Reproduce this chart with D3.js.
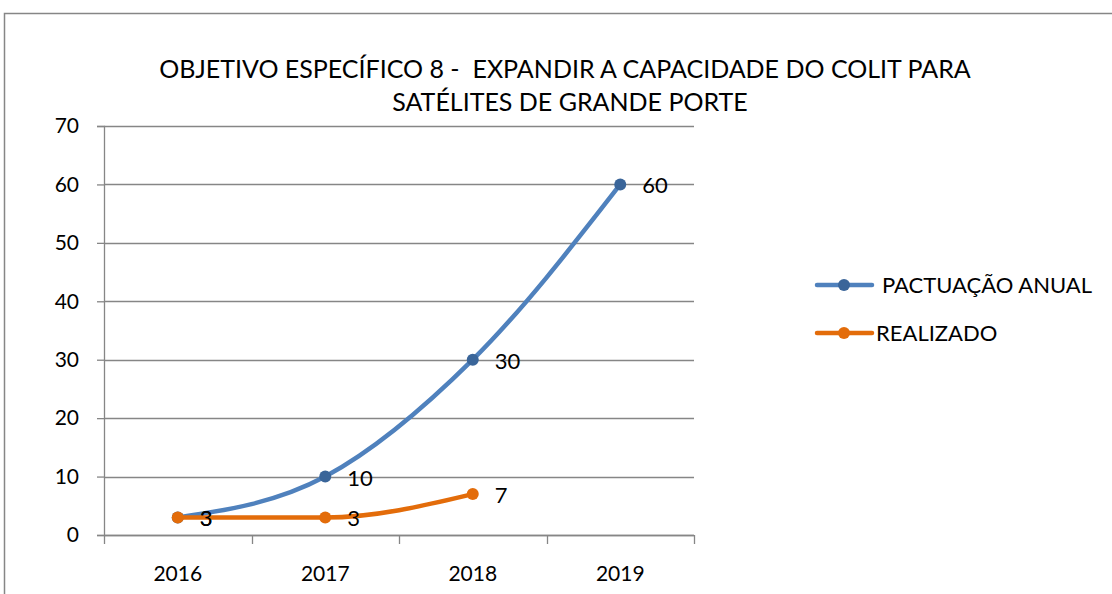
<!DOCTYPE html>
<html>
<head>
<meta charset="utf-8">
<script src="https://cdn.jsdelivr.net/npm/d3@7"></script>
<style>
  body { margin: 0; background: #fff; }
  svg { display: block; font-family: Lato, "Open Sans", sans-serif; }
</style>
</head>
<body>
<div id="chart"></div>
<script>
var years = ['2016', '2017', '2018', '2019'];
var pactuacao = [3, 10, 30, 60];
var realizado = [3, 3, 7];
var yTicks = [0, 10, 20, 30, 40, 50, 60, 70];
var titleLines = ['OBJETIVO ESPECÍFICO 8 -  EXPANDIR A CAPACIDADE DO COLIT PARA', 'SATÉLITES DE GRANDE PORTE'];

var series = [
  { name: 'PACTUAÇÃO ANUAL', values: pactuacao, line: '#4f81bd', marker: '#3a6599' },
  { name: 'REALIZADO', values: realizado, line: '#e36c0a', marker: '#e36c0a' }
];

var W = 1112, H = 594;
var margin = { top: 126, left: 104, right: 418, bottom: 59 };
var width = W - margin.left - margin.right;
var height = H - margin.top - margin.bottom;

var svg = d3.select('#chart').append('svg')
    .attr('width', W)
    .attr('height', H);

// outer frame
svg.append('rect')
    .attr('x', 4.5)
    .attr('y', 13.5)
    .attr('width', W + 10)
    .attr('height', H + 10)
    .attr('fill', 'none')
    .attr('stroke', '#868686')
    .attr('stroke-width', 1.5);

svg.append('g').selectAll('text')
    .data(titleLines)
  .enter().append('text')
    .attr('x', function (d, i) { return i === 0 ? 565 : 570; })
    .attr('y', function (d, i) { return 78 + i * 33; })
    .attr('text-anchor', 'middle')
    .attr('xml:space', 'preserve')
    .style('white-space', 'pre')
    .style('font-size', '25px')
    .style('fill', '#000')
    .text(function (d) { return d; });

var x = d3.scaleBand()
    .domain(years)
    .range([0, width]);

var y = d3.scaleLinear()
    .domain([0, 70])
    .range([height, 0]);

var chartArea = svg.append('g')
    .attr('transform', 'translate(' + margin.left + ',' + margin.top + ')');

// horizontal gridlines
chartArea.append('g').selectAll('line')
    .data(yTicks)
  .enter().append('line')
    .attr('x1', 0)
    .attr('x2', width)
    .attr('y1', function (d) { return Math.round(y(d)) + 0.5; })
    .attr('y2', function (d) { return Math.round(y(d)) + 0.5; })
    .style('stroke', '#868686')
    .style('stroke-width', 1.3);

// y axis
var yAxis = chartArea.append('g')
    .call(d3.axisLeft(y).tickValues(yTicks).tickSize(7).tickPadding(18));
yAxis.select('.domain').style('stroke', '#868686').style('stroke-width', 1.3);
yAxis.selectAll('line').style('stroke', '#868686').style('stroke-width', 1.3);
yAxis.selectAll('text')
    .style('font-family', 'Lato, "Open Sans", sans-serif')
    .style('font-size', '21px')
    .style('fill', '#000');

// x axis, ticks at category boundaries
var xAxis = chartArea.append('g')
    .attr('transform', 'translate(0,' + height + ')');
xAxis.append('line')
    .attr('x1', 0).attr('x2', width)
    .attr('y1', 0.5).attr('y2', 0.5)
    .style('stroke', '#868686').style('stroke-width', 1.3);
xAxis.selectAll('line.tick')
    .data(years.concat(['end']))
  .enter().append('line')
    .attr('class', 'tick')
    .attr('x1', function (d, i) { return Math.round(i * x.step()) + 0.5; })
    .attr('x2', function (d, i) { return Math.round(i * x.step()) + 0.5; })
    .attr('y1', 0)
    .attr('y2', 9)
    .style('stroke', '#868686').style('stroke-width', 1.3);
xAxis.selectAll('text')
    .data(years)
  .enter().append('text')
    .attr('x', function (d) { return x(d) + x.bandwidth() / 2; })
    .attr('y', 46)
    .attr('text-anchor', 'middle')
    .style('font-size', '21px')
    .style('fill', '#000')
    .text(function (d) { return d; });

var line = d3.line()
    .x(function (d, i) { return x(years[i]) + x.bandwidth() / 2; })
    .y(function (d) { return y(d); })
    .curve(d3.curveMonotoneX);

series.forEach(function (s) {
  var g = chartArea.append('g');
  g.append('path')
      .datum(s.values)
      .attr('d', line)
      .attr('fill', 'none')
      .attr('stroke', s.line)
      .attr('stroke-width', 4.5)
      .attr('stroke-linecap', 'round');
  g.selectAll('circle')
      .data(s.values)
    .enter().append('circle')
      .attr('cx', function (d, i) { return x(years[i]) + x.bandwidth() / 2; })
      .attr('cy', function (d) { return y(d); })
      .attr('r', 6)
      .attr('fill', s.marker);
  g.selectAll('text')
      .data(s.values)
    .enter().append('text')
      .attr('x', function (d, i) { return x(years[i]) + x.bandwidth() / 2 + 22; })
      .attr('y', function (d) { return y(d) + 9; })
      .style('font-size', '22px')
      .style('fill', '#000')
      .text(function (d) { return d; });
});

// legend
var legend = svg.append('g');
var legendItems = legend.selectAll('g')
    .data(series)
  .enter().append('g')
    .attr('transform', function (d, i) { return 'translate(817,' + (285 + i * 48) + ')'; });
legendItems.append('line')
    .attr('x1', 0).attr('x2', 55)
    .attr('stroke', function (d) { return d.line; })
    .attr('stroke-width', 4.5)
    .attr('stroke-linecap', 'round');
legendItems.append('circle')
    .attr('cx', 27).attr('r', 6)
    .attr('fill', function (d) { return d.marker; });
legendItems.append('text')
    .attr('x', function (d, i) { return i === 0 ? 65 : 59; })
    .attr('y', 8)
    .style('font-size', '22px')
    .style('fill', '#000')
    .text(function (d) { return d.name; });
</script>
</body>
</html>
